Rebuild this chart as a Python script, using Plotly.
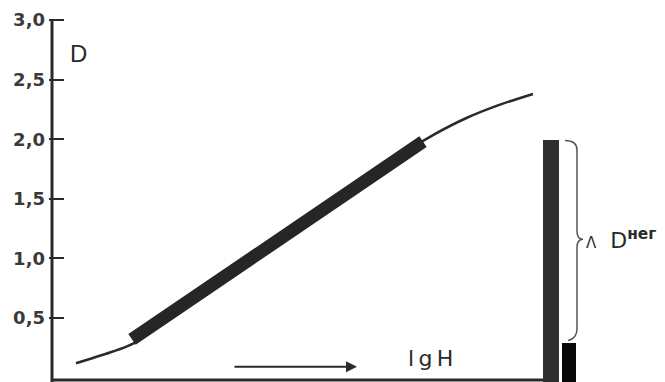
import plotly.graph_objects as go

# ---- data ----
# characteristic curve D vs lgH (arbitrary lgH units)
curve_lo_x = [0.24, 0.41, 0.58, 0.75, 0.84]
curve_lo_d = [0.12, 0.165, 0.21, 0.262, 0.298]
straight_x = [0.80, 3.71]
straight_d = [0.32, 1.98]
curve_hi_x = [3.62, 3.81, 4.15, 4.48, 4.81]
curve_hi_d = [1.94, 2.035, 2.18, 2.29, 2.38]

bar_x = [4.99, 5.17]
bar_d = [1.99, 0.29]
bar_w = [0.16, 0.145]

ytick_vals = [0.5, 1.0, 1.5, 2.0, 2.5, 3.0]
ytick_text = ["0,5", "1,0", "1,5", "2,0", "2,5", "3,0"]

INK = "#2a2a2a"

fig = go.Figure()
fig.add_trace(go.Scatter(x=curve_lo_x, y=curve_lo_d, mode="lines",
                         line=dict(color=INK, width=2.6, shape="spline", smoothing=0.8),
                         hoverinfo="skip"))
fig.add_trace(go.Scatter(x=curve_hi_x, y=curve_hi_d, mode="lines",
                         line=dict(color=INK, width=2.6, shape="spline", smoothing=0.8),
                         hoverinfo="skip"))
fig.add_trace(go.Scatter(x=straight_x, y=straight_d, mode="lines",
                         line=dict(color="#262626", width=13), hoverinfo="skip"))
fig.add_trace(go.Bar(x=bar_x, y=[d + 0.06 for d in bar_d], base=-0.06, width=bar_w,
                     marker=dict(color=["#2e2e2e", "#080808"], line=dict(width=0)),
                     hoverinfo="skip"))

# axes lines
fig.add_shape(type="line", x0=0, x1=0, y0=-0.06, y1=ytick_vals[-1],
              line=dict(color=INK, width=3))
fig.add_shape(type="line", x0=0, x1=bar_x[0] - bar_w[0] / 2, y0=-0.02, y1=-0.02,
              line=dict(color=INK, width=3))

# brace spanning between the two bar heights
top, bot = bar_d[0], bar_d[1] + 0.04
mid = (top + bot) / 2
bx = bar_x[1] + 0.08
brace = (f"M {bar_x[1]-0.04},{top} Q {bx},{top} {bx},{top-0.08} "
         f"L {bx},{mid+0.07} Q {bx},{mid} {bx+0.06},{mid} "
         f"Q {bx},{mid} {bx},{mid-0.07} L {bx},{bot+0.08} "
         f"Q {bx},{bot} {bar_x[1]-0.01},{bot-0.02}")
fig.add_shape(type="path", path=brace, line=dict(color="#555555", width=1.5))

fig.add_annotation(x=bx + 0.07, y=mid, xref="x", yref="y", xanchor="left", yanchor="middle",
                   text="<span style='font-size:15px'>Λ</span>  D<sup style='font-size:15px'><b>нег</b></sup>",
                   showarrow=False, font=dict(family="DejaVu Sans", size=22, color=INK))

fig.add_annotation(x=0.16, y=2.72, xref="x", yref="y", xanchor="left", yanchor="middle",
                   text="D", showarrow=False,
                   font=dict(family="Liberation Sans", size=24, color=INK))

fig.add_annotation(x=3.54, y=0.16, xref="x", yref="y", xanchor="left", yanchor="middle",
                   text="l\u2009g\u2009H", showarrow=False,
                   font=dict(family="DejaVu Sans", size=22, color=INK))

fig.add_annotation(x=3.05, y=0.09, ax=1.81, ay=0.09, xref="x", yref="y", axref="x", ayref="y",
                   text="", showarrow=True, arrowhead=2, arrowsize=1.1, arrowwidth=2,
                   arrowcolor=INK)

fig.update_layout(
    width=665, height=382,
    margin=dict(l=49, r=0, t=0, b=0),
    paper_bgcolor="white", plot_bgcolor="white",
    showlegend=False,
    bargap=0,
    xaxis=dict(range=[-0.03, 6.13], showgrid=False, zeroline=False, showline=False,
               showticklabels=False, ticks="", automargin=False),
    yaxis=dict(range=[-0.037, 3.168], showgrid=False, zeroline=False, showline=False,
               tickvals=ytick_vals, ticktext=ytick_text, ticks="inside", ticklen=15,
               tickwidth=2, tickcolor=INK, automargin=False, ticklabelstandoff=3,
               tickfont=dict(family="DejaVu Sans", size=18, color="#3a3a3a", weight="bold")),
)

fig.write_html("out.html", config={"displayModeBar": False},
               post_script="document.body.style.margin='0';")
